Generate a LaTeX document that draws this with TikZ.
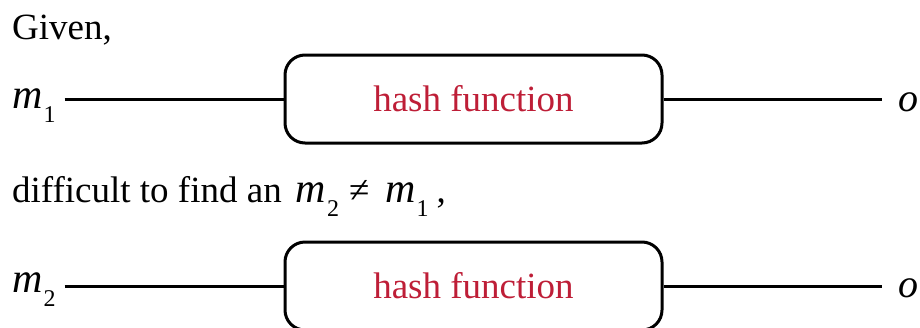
\documentclass[tikz,border=0pt]{standalone}
\usepackage{fontspec}
\setmainfont{Liberation Serif}
\usetikzlibrary{positioning}

\definecolor{hashred}{RGB}{190,30,55}

% italic m with a low subscript
\newcommand{\msub}[1]{{\fontsize{42}{42}\selectfont\itshape m}\kern1pt\raisebox{-14pt}{\fontsize{24}{24}\selectfont #1}}

\tikzset{
  txt/.style={anchor=base west, inner sep=0pt, font=\fontsize{37}{44}\selectfont},
  lbl/.style={anchor=base west, inner ysep=0pt, inner xsep=0pt},
  hashbox/.style={draw, line width=3pt, rounded corners=20pt, minimum width=377pt,
    minimum height=88pt, text=hashred, font=\fontsize{37}{44}\selectfont},
  wire/.style={line width=3pt}
}

\begin{document}
\begin{tikzpicture}[x=1pt,y=-1pt]
\clip (0,0) rectangle (920,327);

% first row
\node[txt] (given) at (12,39) {Given,};
\node[lbl] (m1) at (12,108) {\msub{1}};
\node[hashbox] (hash1) at (473.5,99) {hash function};
\node[lbl] (o1) at (898,111) {\fontsize{40}{40}\selectfont\itshape o};
\draw[wire] ([xshift=9pt]m1.east |- hash1.west) -- (hash1.west);
\draw[wire] (hash1.east) -- ([xshift=-16pt]o1.west |- hash1.east);

% second row
\node[txt] (claim) at (12,202) {difficult to find an\hspace{14pt}\msub{2}\hspace{10pt}≠\hspace{16pt}\msub{1}\hspace{8pt},};
\node[lbl] (m2) at (12,292) {\msub{2}};
\node[hashbox] (hash2) at (473.5,286) {hash function};
\node[lbl] (o2) at (898,297) {\fontsize{40}{40}\selectfont\itshape o};
\draw[wire] ([xshift=9pt]m2.east |- hash2.west) -- (hash2.west);
\draw[wire] (hash2.east) -- ([xshift=-16pt]o2.west |- hash2.east);
\end{tikzpicture}
\end{document}
